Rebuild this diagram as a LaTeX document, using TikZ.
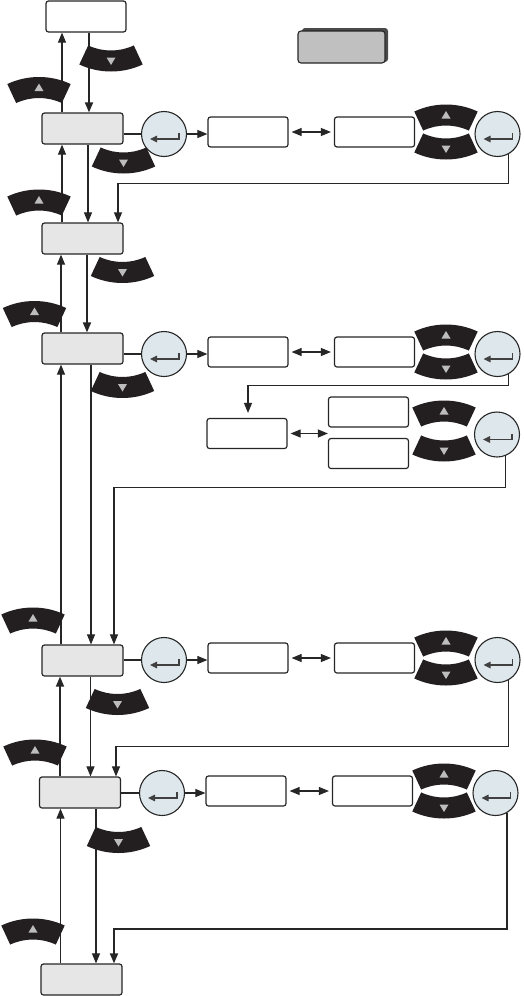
\documentclass[tikz,border=0pt]{standalone}
\usepackage{tikz}
\usetikzlibrary{arrows.meta,positioning}
\definecolor{keyblack}{HTML}{231F20}
\definecolor{trigray}{HTML}{BDBDBD}
\definecolor{boxfill}{HTML}{E6E6E6}
\definecolor{btnfill}{HTML}{DEE8EC}
\definecolor{lgfill}{HTML}{C0C0C0}
\definecolor{lgdark}{HTML}{4A4A4A}
\colorlet{edge}{black!85}
\tikzset{menu/.style={draw=edge,line width=1.2pt,rounded corners=2.5pt,fill=boxfill,
    minimum width=81pt,minimum height=31pt,inner sep=0pt},
  val/.style={menu,fill=white,minimum width=80pt,minimum height=30pt},
  enter/.style={circle,draw=edge,line width=1.1pt,fill=btnfill,minimum size=45pt,inner sep=0pt,
    path picture={\draw[black!75,line width=1.1pt,-{Triangle[length=7pt,width=6.5pt]}]
      ([shift={(15pt,1pt)}]path picture bounding box.center) -- ++(0,-6pt) -- ++(-29pt,0);}},
  wire/.style={draw=edge,line width=1.1pt},
  fwd/.style={wire,-{Triangle[length=10pt,width=8pt]}},
  bold/.style={fwd,line width=1.8pt},
  dbl/.style={wire,{Triangle[length=10pt,width=8pt]}-{Triangle[length=10pt,width=8pt]}},
  lgbox/.style={draw=edge,line width=1.1pt,rounded corners=3pt,fill=lgfill,minimum width=87pt,minimum height=32pt},
  lgback/.style={rounded corners=3pt,fill=lgdark,minimum width=86pt,minimum height=34pt}}
\newcommand{\upkey}[1]{%
\begin{scope}[shift={(#1)},yshift=-62pt]
\fill[keyblack] (65:75) arc[start angle=65,end angle=115,radius=75]
  -- (115:54) arc[start angle=115,end angle=65,radius=54] -- cycle;
\fill[trigray] (0,68.5) -- (-4.5,61) -- (4.5,61) -- cycle;
\end{scope}}
\newcommand{\downkey}[1]{%
\begin{scope}[shift={(#1)},yshift=62pt]
\fill[keyblack] (245:75) arc[start angle=245,end angle=295,radius=75]
  -- (295:54) arc[start angle=295,end angle=245,radius=54] -- cycle;
\fill[trigray] (0,-68.5) -- (-4.5,-61) -- (4.5,-61) -- cycle;
\end{scope}}
\begin{document}
\begin{tikzpicture}[x=1pt,y=1pt]
\useasboundingbox (0,0) rectangle (523,-996);
% menu column
\node[val,minimum height=31pt] (m0) at (86,-16.5) {};
\node[menu] (m1) at (82.5,-128.5) {};
\node[menu] (m2) at (82.5,-238.5) {};
\node[menu] (m3) at (82.5,-348.5) {};
\node[menu] (m4) at (82.5,-660.5) {};
\node[menu] (m5) at (80,-792.5) {};
\node[menu] (m6) at (81.5,-979.5) {};
% legend
\node[lgback] (lgb) at (345,-45) {};
\node[lgbox] (lg) at (341.5,-47) {};
% setting rows
\foreach \i/\yy/\dx in {1/-132/0,3/-352/0,4/-658/0,5/-791/-2}{
  \node[enter] (ea\i) at (164+\dx,\yy-2) {};
  \node[val] (va\i) at (248+\dx,\yy) {};
  \node[val] (vb\i) at (374.5+\dx,\yy) {};
  \draw[wire] (m\i.east |- ea\i) -- (ea\i);
  \draw[fwd] (ea\i) -- (ea\i -| va\i.west);
  \draw[dbl,shorten <=3pt,shorten >=3pt] (va\i) -- (vb\i);
  \upkey{446+\dx,\yy+14.5}
  \downkey{446+\dx,\yy-14.5}
  \node[enter] (eb\i) at (497.5+\dx,\yy-2) {};
}
% extra row under row 3
\node[val] (aux) at (247,-433.5) {};
\node[val] (vt) at (368.5,-412) {};
\node[val] (vd) at (368.5,-453.5) {};
\draw[dbl,shorten <=3pt] (aux) -- (aux -| vt.west);
\upkey{444,-413.5}
\downkey{444,-448.5}
\node[enter] (ex) at (497,-434.5) {};
% up / down links
\draw[fwd] ([xshift=-20.5pt]m1.north) -- ([xshift=-24pt]m0.south);
\draw[bold] ([xshift=3pt]m0.south) -- ([xshift=6.5pt]m1.north);
\draw[fwd] ([xshift=-20.5pt]m2.north) -- ([xshift=-20.5pt]m1.south);
\draw[fwd] ([xshift=5.5pt]m1.south) -- ([xshift=5.5pt]m2.north);
\draw[fwd] ([xshift=-21.5pt]m3.north) -- ([xshift=-21.5pt]m2.south);
\draw[bold] ([xshift=4.5pt]m2.south) -- ([xshift=4.5pt]m3.north);
\draw[fwd] ([xshift=-21.5pt]m4.north) -- ([xshift=-21.5pt]m3.south);
\draw[fwd] ([xshift=8.5pt]m3.south) -- ([xshift=8.5pt]m4.north);
\draw[bold] ([xshift=-20pt]m5.north) -- ([xshift=-22.5pt]m4.south);
\draw[fwd] ([xshift=8pt]m4.south) -- ([xshift=10.5pt]m5.north);
\draw[fwd] ([xshift=-21pt]m6.north) -- ([xshift=-19.5pt]m5.south);
\draw[fwd] ([xshift=16pt]m5.south) -- ([xshift=14.5pt]m6.north);
% returns after confirm
\draw[fwd] (eb1.-62) -- ++(0,-29) -| ([xshift=35.5pt]m2.north);
\draw[fwd] (eb3.-62) -- ++(0,-11) -| ([xshift=1pt,yshift=5pt]aux.north);
\draw[fwd] (ex.-69) -- ++(0,-31.5) -| ([xshift=31.5pt]m4.north);
\draw[fwd] (eb4.-62) -- ++(0,-66) -| ([xshift=36pt]m5.north);
\draw[bold] (eb5.-59) -- ++(0,-116) -| ([xshift=32.5pt]m6.north);
% keys on the menu column
\upkey{39,-90}
\downkey{111,-58.5}
\downkey{123.5,-160.5}
\upkey{39,-202.5}
\downkey{122.5,-270}
\upkey{34.5,-314}
\downkey{122.5,-385}
\upkey{33,-620.5}
\downkey{117.5,-702}
\upkey{35,-752.5}
\downkey{118.5,-840}
\upkey{33,-931.5}
\end{tikzpicture}
\end{document}
